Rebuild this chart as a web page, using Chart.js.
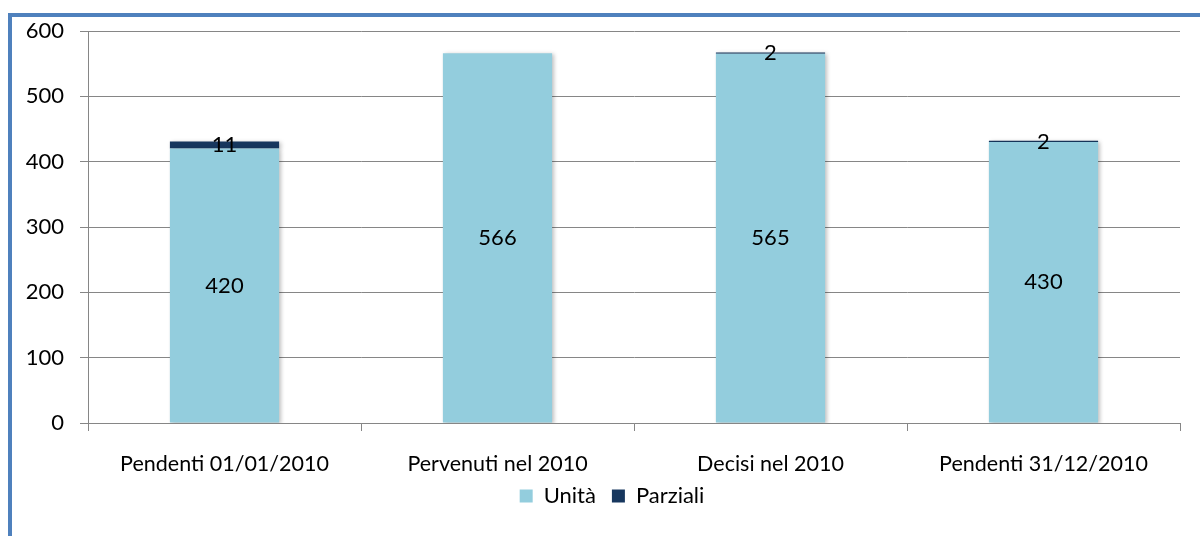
<script src="https://cdn.jsdelivr.net/npm/chart.js"></script>
<style>
    body {
        margin: 0;
        padding: 0;
        background: #fff;
        font-family: Lato, "Open Sans", sans-serif;
    }
    .frame {
        position: absolute;
        left: 8px;
        top: 13px;
        width: 1192px;
        height: 523px;
        border-left: 4px solid #4f81bd;
        border-top: 4px solid #4f81bd;
        box-sizing: border-box;
    }
    .chart-box {
        position: absolute;
        left: 0;
        top: 0;
        width: 1200px;
        height: 536px;
    }
</style>

<div class="frame"></div>
<div class="chart-box">
    <canvas id="chart" width="1200" height="536"></canvas>
</div>

<script>
    const categories = ['Pendenti 01/01/2010', 'Pervenuti nel 2010', 'Decisi nel 2010', 'Pendenti 31/12/2010'];
    const unita = [420, 566, 565, 430];
    const parziali = [11, null, 2, 2];
    const yTicks = [0, 100, 200, 300, 400, 500, 600];

    const fontFamily = 'Lato, "Open Sans", sans-serif';

    // writes each segment's value in the middle of its bar piece
    const valueLabels = {
        id: 'valueLabels',
        afterDatasetsDraw(chart) {
            const ctx = chart.ctx;
            ctx.save();
            ctx.font = '22px ' + fontFamily;
            ctx.fillStyle = '#000';
            ctx.textAlign = 'center';
            ctx.textBaseline = 'middle';
            chart.data.datasets.forEach((ds, i) => {
                const meta = chart.getDatasetMeta(i);
                meta.data.forEach((bar, j) => {
                    const v = ds.data[j];
                    if (v == null) return;
                    ctx.fillText(String(v), bar.x, (bar.y + bar.base) / 2);
                });
            });
            ctx.restore();
        }
    };

    // soft drop shadow under the bars
    const barShadow = {
        id: 'barShadow',
        beforeDatasetDraw(chart) {
            const ctx = chart.ctx;
            ctx.save();
            ctx.shadowColor = 'rgba(0,0,0,0.25)';
            ctx.shadowBlur = 4;
            ctx.shadowOffsetX = 2;
            ctx.shadowOffsetY = 1;
        },
        afterDatasetDraw(chart) {
            chart.ctx.restore();
        }
    };

    // nudge the legend a little right and up, closer under the axis labels
    const legendShift = {
        id: 'legendShift',
        afterLayout(chart) {
            const dx = 22, dy = -8;
            chart.legend.left += dx;
            chart.legend.right += dx;
            chart.legend.top += dy;
            chart.legend.bottom += dy;
        }
    };

    new Chart(document.getElementById('chart'), {
        type: 'bar',
        data: {
            labels: categories,
            datasets: [
                { label: 'Unità', data: unita, backgroundColor: '#93cddd', categoryPercentage: 1, barPercentage: 0.4 },
                { label: 'Parziali', data: parziali, backgroundColor: '#17375e', categoryPercentage: 1, barPercentage: 0.4 }
            ]
        },
        options: {
            responsive: false,
            animation: false,
            layout: { padding: { top: 31, right: 20, bottom: 11, left: 0 } },
            plugins: {
                legend: {
                    position: 'bottom',
                    labels: {
                        boxWidth: 13,
                        boxHeight: 13,
                        padding: 16,
                        color: '#000',
                        font: { family: fontFamily, size: 22 }
                    }
                },
                tooltip: { enabled: false }
            },
            scales: {
                x: {
                    stacked: true,
                    offset: true,
                    grid: {
                        offset: true,
                        drawOnChartArea: false,
                        drawTicks: true,
                        tickLength: 8,
                        color: '#868686'
                    },
                    border: { color: '#868686' },
                    ticks: {
                        color: '#000',
                        padding: 20,
                        font: { family: fontFamily, size: 21.5 }
                    },
                    afterFit(scale) { scale.height = 54; }
                },
                y: {
                    stacked: true,
                    min: 0,
                    max: 600,
                    afterBuildTicks(scale) { scale.ticks = yTicks.map(v => ({ value: v })); },
                    grid: { color: '#868686', tickLength: 8 },
                    border: { color: '#868686' },
                    ticks: {
                        color: '#000',
                        padding: 16,
                        font: { family: fontFamily, size: 22 }
                    },
                    afterFit(scale) { scale.width = 88; }
                }
            }
        },
        plugins: [barShadow, valueLabels, legendShift]
    });
</script>
